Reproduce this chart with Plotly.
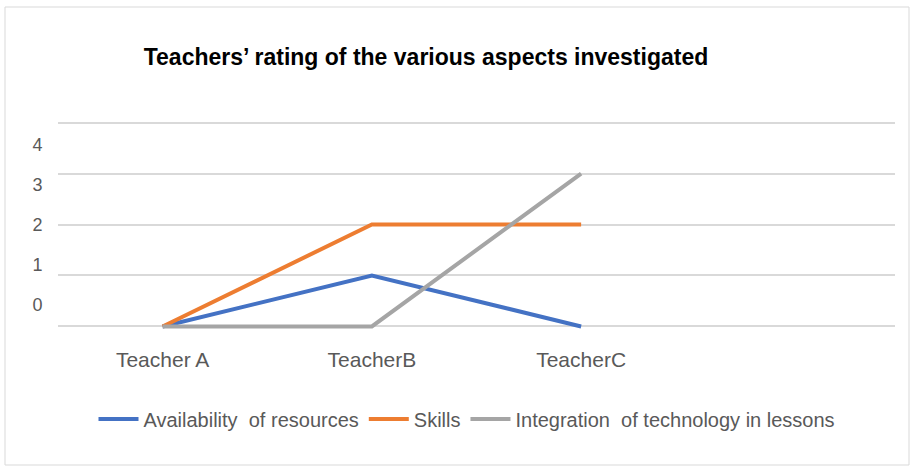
import plotly.graph_objects as go

# data
teachers = ["Teacher A", "TeacherB", "TeacherC", " "]
availability = [0, 1, 0, None]
skills = [0, 2, 2, None]
integration = [0, 0, 3, None]
rating_ticks = [0, 1, 2, 3, 4]

W, H = 911, 468
L, R, T, B = 58, 16, 120, 139
plot_h = H - T - B
plot_w = W - L - R


def py(px):
    # screen row -> paper y
    return (H - B - px) / plot_h


def pxx(px):
    # screen column -> paper x
    return (px - L) / plot_w


fig = go.Figure()
for name, vals, color in [
    ("Availability  of resources", availability, "#4472C4"),
    ("Skills", skills, "#ED7D31"),
    ("Integration  of technology in lessons", integration, "#A5A5A5"),
]:
    fig.add_trace(
        go.Scatter(
            x=teachers,
            y=vals,
            name=name,
            mode="lines",
            line=dict(color=color, width=4),
        )
    )

# invisible carrier so the offset tick-label axis gets drawn
fig.add_trace(
    go.Scatter(
        x=[teachers[0]] * len(rating_ticks),
        y=rating_ticks,
        yaxis="y2",
        mode="markers",
        marker=dict(opacity=0),
        showlegend=False,
        hoverinfo="skip",
    )
)

fig.update_layout(
    width=W,
    height=H,
    margin=dict(l=L, r=R, t=T, b=B),
    paper_bgcolor="white",
    plot_bgcolor="rgba(0,0,0,0)",
    font=dict(family="Liberation Sans, Arial, sans-serif", color="#595959", size=20),
    title=dict(
        text="<b>Teachers’ rating of the various aspects investigated</b>",
        x=426 / W,
        xanchor="center",
        y=1 - 57 / H,
        yanchor="middle",
        font=dict(size=23, color="#000000"),
    ),
    xaxis=dict(
        type="category",
        range=[-0.5, 3.5],
        showgrid=False,
        zeroline=False,
        showline=False,
        ticks="outside",
        ticklen=12,
        tickcolor="rgba(0,0,0,0)",
        tickfont=dict(size=21),
    ),
    yaxis=dict(
        range=[-0.05, 4.05],
        tickvals=rating_ticks,
        showticklabels=False,
        showgrid=True,
        gridcolor="#D9D9D9",
        gridwidth=1.5,
        zeroline=False,
        showline=False,
    ),
    # the tick labels in the source sit off the gridlines, so they get their own axis
    yaxis2=dict(
        domain=[py(305), py(145)],
        range=[0, 4],
        tickvals=rating_ticks,
        anchor="free",
        position=0,
        side="left",
        showgrid=False,
        zeroline=False,
        showline=False,
        ticks="outside",
        ticklen=12,
        tickcolor="rgba(0,0,0,0)",
        tickfont=dict(size=18),
        fixedrange=True,
    ),
    legend=dict(
        orientation="h",
        x=pxx(467),
        xanchor="center",
        y=py(419),
        yanchor="middle",
        font=dict(size=20, color="#595959"),
        itemwidth=40,
    ),
    shapes=[
        dict(
            type="rect",
            xref="paper",
            yref="paper",
            x0=pxx(5),
            x1=pxx(909),
            y0=py(465),
            y1=py(7),
            line=dict(color="#D9D9D9", width=1),
        )
    ],
)

# drop the default 8px body margin so the figure sits at the window corner
fig.write_html(
    "out.html",
    config={"displayModeBar": False},
    post_script="document.body.style.margin = '0';",
)
